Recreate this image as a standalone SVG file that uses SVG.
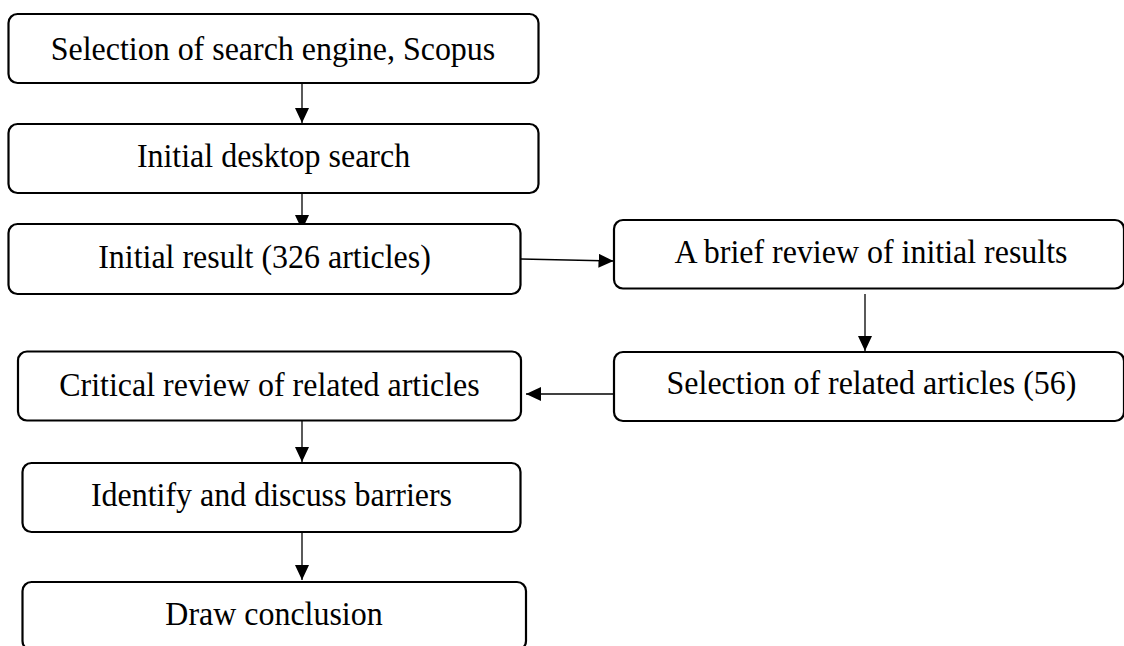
<svg xmlns="http://www.w3.org/2000/svg" width="1124" height="646" viewBox="0 0 1124 646">
<style>
.box{fill:#fff;stroke:#000;stroke-width:2.2}
.lbl{font-family:"Liberation Serif","Times New Roman",serif;font-size:34px;fill:#000;text-anchor:middle}
.con{stroke:#000;stroke-width:1.3;fill:none;marker-end:url(#ah)}
</style>
<defs>
<marker id="ah" markerUnits="userSpaceOnUse" markerWidth="16" markerHeight="16" refX="15" refY="7" orient="auto">
<path d="M0,0 L15,7 L0,14 Z" fill="#000"/>
</marker>
</defs>
<rect width="1124" height="646" fill="#fff"/>
<g id="connectors">
<line class="con" x1="302" y1="83" x2="302" y2="123"/>
<line class="con" x1="302" y1="193" x2="302" y2="230"/>
<line class="con" x1="521" y1="259" x2="613.5" y2="261"/>
<line class="con" x1="865" y1="294" x2="865" y2="351"/>
<line class="con" x1="613" y1="394" x2="526" y2="394"/>
<line class="con" x1="302" y1="421" x2="302" y2="462"/>
<line class="con" x1="302" y1="532" x2="302" y2="580"/>
</g>
<g id="n1"><rect class="box" x="8.5" y="14" width="530" height="69" rx="9"/><text class="lbl" transform="translate(273 60) scale(0.94 1)">Selection of search engine, Scopus</text></g>
<g id="n2"><rect class="box" x="8.5" y="124" width="530" height="69" rx="9"/><text class="lbl" transform="translate(273.5 167) scale(0.94 1)">Initial desktop search</text></g>
<g id="n3"><rect class="box" x="8.5" y="224" width="512" height="70" rx="9"/><text class="lbl" transform="translate(264.5 268) scale(0.94 1)">Initial result (326 articles)</text></g>
<g id="n4"><rect class="box" x="614" y="220" width="510" height="68.5" rx="9"/><text class="lbl" transform="translate(871 263) scale(0.94 1)">A brief review of initial results</text></g>
<g id="n5"><rect class="box" x="614" y="352" width="510" height="69" rx="9"/><text class="lbl" transform="translate(871.5 394) scale(0.94 1)">Selection of related articles (56)</text></g>
<g id="n6"><rect class="box" x="18" y="351.5" width="503" height="69" rx="9"/><text class="lbl" transform="translate(269.5 396) scale(0.94 1)">Critical review of related articles</text></g>
<g id="n7"><rect class="box" x="22.5" y="463" width="498" height="69" rx="9"/><text class="lbl" transform="translate(271.5 506) scale(0.94 1)">Identify and discuss barriers</text></g>
<g id="n8"><rect class="box" x="22.5" y="582" width="503.5" height="68" rx="9"/><text class="lbl" transform="translate(274 625) scale(0.94 1)">Draw conclusion</text></g>
</svg>
